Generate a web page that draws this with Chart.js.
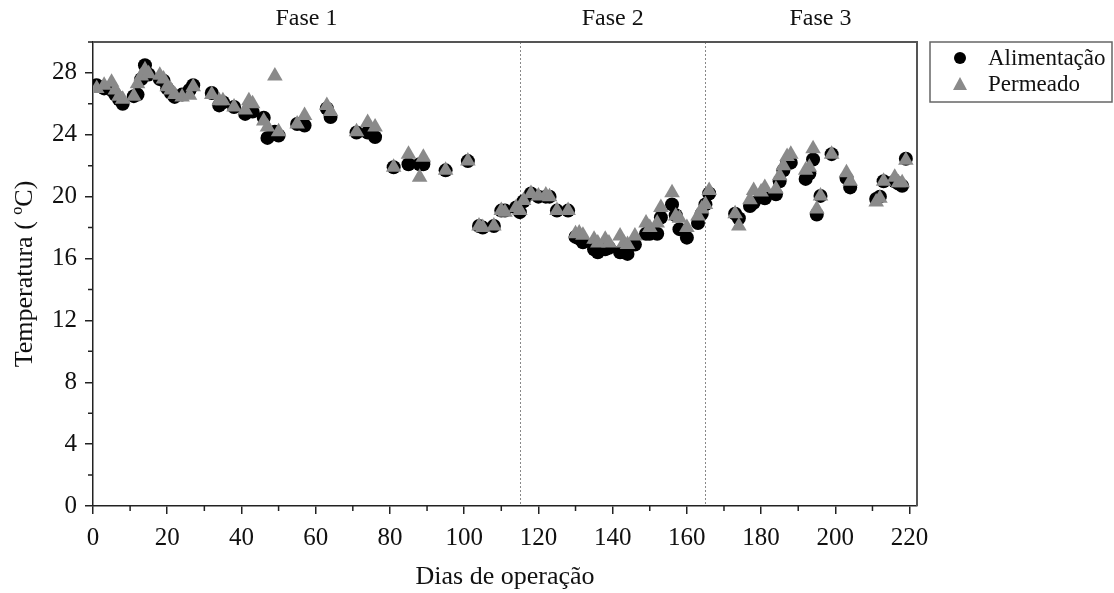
<!DOCTYPE html>
<html>
<head>
<meta charset="utf-8">
<script src="https://cdn.jsdelivr.net/npm/chart.js@4.4.1/dist/chart.umd.min.js"></script>
<style>
  html, body { margin: 0; padding: 0; background: #fff; }
</style>
</head>
<body>
<canvas id="chart" width="1114" height="593"></canvas>
<script>
// data
const dias = [
  1, 3, 5, 6, 7, 8, 11, 12, 13, 14, 15, 18, 19, 20, 21, 22, 24, 26, 27,
  32, 34, 35, 38, 41, 42, 43, 46, 47, 49, 50, 55, 57, 63, 64, 71, 74, 76,
  81, 85, 88, 89, 95, 101, 104, 105, 108, 110, 111, 114, 115, 116, 118, 120,
  122, 123, 125, 128, 130, 131, 132, 135, 136, 138, 139, 142, 143, 144, 146,
  149, 150, 152, 153, 156, 157, 158, 160, 163, 164, 165, 166, 173, 174, 177,
  178, 180, 181, 184, 185, 186, 187, 188, 192, 193, 194, 195, 196, 199, 203,
  204, 211, 212, 213, 216, 217, 218, 219
];
const alimentacao = [
  27.2, 27.0, 26.9, 26.6, 26.3, 26.0, 26.5, 26.6, 27.6, 28.5, 27.9, 27.6, 27.5, 27.0, 26.7, 26.45, 26.6, 26.9, 27.2,
  26.7, 25.9, 26.1, 25.8, 25.35, 25.6, 25.5, 25.1, 23.8, 24.2, 23.95, 24.7, 24.6, 25.7, 25.15, 24.15, 24.15, 23.85,
  21.9, 22.1, 22.1, 22.1, 21.7, 22.3, 18.1, 18.0, 18.1, 19.1, 19.1, 19.3, 19.0, 19.7, 20.2, 20.0,
  20.0, 20.0, 19.1, 19.1, 17.4, 17.3, 17.05, 16.6, 16.4, 16.6, 16.7, 16.4, 16.4, 16.3, 16.9,
  17.6, 17.6, 17.6, 18.65, 19.5, 18.8, 17.9, 17.35, 18.3, 18.9, 19.5, 20.2, 18.9, 18.6, 19.4,
  19.6, 20.0, 19.9, 20.15, 21.0, 21.7, 22.2, 22.2, 21.15, 21.5, 22.4, 18.85, 20.05, 22.75, 21.2,
  20.6, 19.85, 20.0, 21.0, 21.0, 20.85, 20.7, 22.45
];
const permeado = [
  27.0, 27.2, 27.4, 26.9, 26.5, 26.3, 26.5, 27.3, 27.8, 28.2, 27.95, 27.85, 27.6, 27.1, 26.9, 26.6, 26.45, 26.55, 27.1,
  26.6, 26.2, 26.2, 25.8, 25.6, 26.2, 26.0, 24.9, 24.5, 27.8, 24.2, 24.7, 25.25, 25.9, 25.5, 24.2, 24.8, 24.5,
  21.9, 22.75, 21.25, 22.55, 21.7, 22.3, 18.1, 18.0, 18.1, 19.1, 19.0, 19.3, 19.1, 19.75, 20.2, 20.05,
  20.1, 20.0, 19.1, 19.1, 17.6, 17.65, 17.5, 17.25, 17.0, 17.25, 17.0, 17.45, 17.0, 16.9, 17.45,
  18.3, 18.0, 18.3, 19.3, 20.25, 18.75, 18.6, 18.0, 18.75, 19.2, 19.5, 20.4, 18.9, 18.1, 19.8,
  20.4, 20.3, 20.6, 20.5, 21.35, 22.0, 22.6, 22.75, 21.7, 21.9, 23.1, 19.2, 20.05, 22.75, 21.55,
  21.0, 19.65, 19.9, 21.0, 21.25, 20.9, 20.9, 22.35
];
const limitesFase = [115, 165];
const nomesFase = ['Fase 1', 'Fase 2', 'Fase 3'];
const centrosFase = [57.5, 140, 196];

const SERIF = "'Liberation Serif', 'Times New Roman', serif";

const toPoints = ys => dias.map((d, i) => ({x: d, y: ys[i]}));

// frame, phase lines, minor ticks, phase names and legend
const extrasPlugin = {
  id: 'extras',
  beforeDatasetsDraw(chart) {
    const {ctx, chartArea: {top, bottom}, scales: {x}} = chart;
    ctx.save();
    ctx.strokeStyle = '#888';
    ctx.lineWidth = 1;
    ctx.setLineDash([2, 2]);
    limitesFase.forEach(d => {
      const px = Math.round(x.getPixelForValue(d)) + 0.5;
      ctx.beginPath();
      ctx.moveTo(px, top);
      ctx.lineTo(px, bottom);
      ctx.stroke();
    });
    ctx.restore();
  },
  afterDraw(chart) {
    const {ctx, chartArea: {left, right, top, bottom}, scales: {x, y}} = chart;
    ctx.save();
    // top and right frame
    ctx.strokeStyle = '#555';
    ctx.lineWidth = 2;
    ctx.beginPath();
    ctx.moveTo(left, top);
    ctx.lineTo(right, top);
    ctx.lineTo(right, bottom);
    ctx.stroke();

    // minor ticks
    ctx.strokeStyle = '#222';
    ctx.lineWidth = 1.5;
    ctx.beginPath();
    for (let v = 10; v <= 220; v += 20) {
      const px = x.getPixelForValue(v);
      ctx.moveTo(px, bottom);
      ctx.lineTo(px, bottom + 5);
    }
    for (let v = 2; v <= 30; v += 4) {
      const py = y.getPixelForValue(v);
      ctx.moveTo(left, py);
      ctx.lineTo(left - 5, py);
    }
    ctx.stroke();

    // phase names
    ctx.fillStyle = '#111';
    ctx.font = '24px ' + SERIF;
    ctx.textAlign = 'center';
    ctx.textBaseline = 'middle';
    nomesFase.forEach((n, i) => ctx.fillText(n, x.getPixelForValue(centrosFase[i]), 19));

    // legend box
    const lx = 930, ly = 42, lw = 182, lh = 60;
    ctx.strokeStyle = '#666';
    ctx.lineWidth = 1.5;
    ctx.strokeRect(lx, ly, lw, lh);
    ctx.font = '23px ' + SERIF;
    ctx.textAlign = 'left';
    chart.data.datasets.slice().reverse().forEach((ds, i) => {
      const cy = ly + 16 + i * 26;
      const cx = lx + 30;
      ctx.fillStyle = ds.backgroundColor;
      ctx.beginPath();
      if (ds.pointStyle === 'circle') {
        ctx.arc(cx, cy, 6, 0, Math.PI * 2);
      } else {
        ctx.moveTo(cx, cy - 7);
        ctx.lineTo(cx + 7, cy + 6);
        ctx.lineTo(cx - 7, cy + 6);
        ctx.closePath();
      }
      ctx.fill();
      ctx.fillStyle = '#111';
      ctx.fillText(ds.label, lx + 58, cy + 1);
    });
    ctx.restore();
  }
};

const ctx = document.getElementById('chart');
new Chart(ctx, {
  type: 'scatter',
  data: {
    datasets: [
      {
        label: 'Permeado',
        data: toPoints(permeado),
        pointStyle: 'triangle',
        pointRadius: 9,
        backgroundColor: '#8a8a8a',
        borderColor: '#8a8a8a',
        borderWidth: 0,
        order: 0
      },
      {
        label: 'Alimentação',
        data: toPoints(alimentacao),
        pointStyle: 'circle',
        pointRadius: 7,
        backgroundColor: '#000',
        borderColor: '#000',
        borderWidth: 0,
        order: 1
      }
    ]
  },
  options: {
    responsive: false,
    animation: false,
    layout: {padding: {top: 42, right: 197, left: 0, bottom: 0}},
    plugins: {
      legend: {display: false},
      tooltip: {enabled: false}
    },
    scales: {
      x: {
        type: 'linear',
        min: 0,
        max: 222,
        afterFit(scale) { scale.height = 87; },
        border: {color: '#222', width: 1.5},
        grid: {drawOnChartArea: false, tickLength: 8, color: '#222', lineWidth: 1.5},
        ticks: {
          stepSize: 20,
          includeBounds: false,
          maxRotation: 0,
          padding: 9,
          color: '#111',
          font: {family: SERIF, size: 25}
        },
        title: {
          display: true,
          text: 'Dias de operação',
          color: '#111',
          font: {family: SERIF, size: 26},
          padding: {top: 0, bottom: 0}
        }
      },
      y: {
        min: 0,
        max: 30,
        afterFit(scale) { scale.width = 93; },
        border: {color: '#222', width: 1.5},
        grid: {drawOnChartArea: false, tickLength: 8, color: '#222', lineWidth: 1.5},
        ticks: {
          stepSize: 4,
          includeBounds: false,
          padding: 8,
          color: '#111',
          font: {family: SERIF, size: 25}
        },
        title: {
          display: true,
          text: 'Temperatura ( ºC)',
          color: '#111',
          font: {family: SERIF, size: 26},
          padding: {top: 10, bottom: 0}
        }
      }
    }
  },
  plugins: [extrasPlugin]
});
</script>
</body>
</html>
